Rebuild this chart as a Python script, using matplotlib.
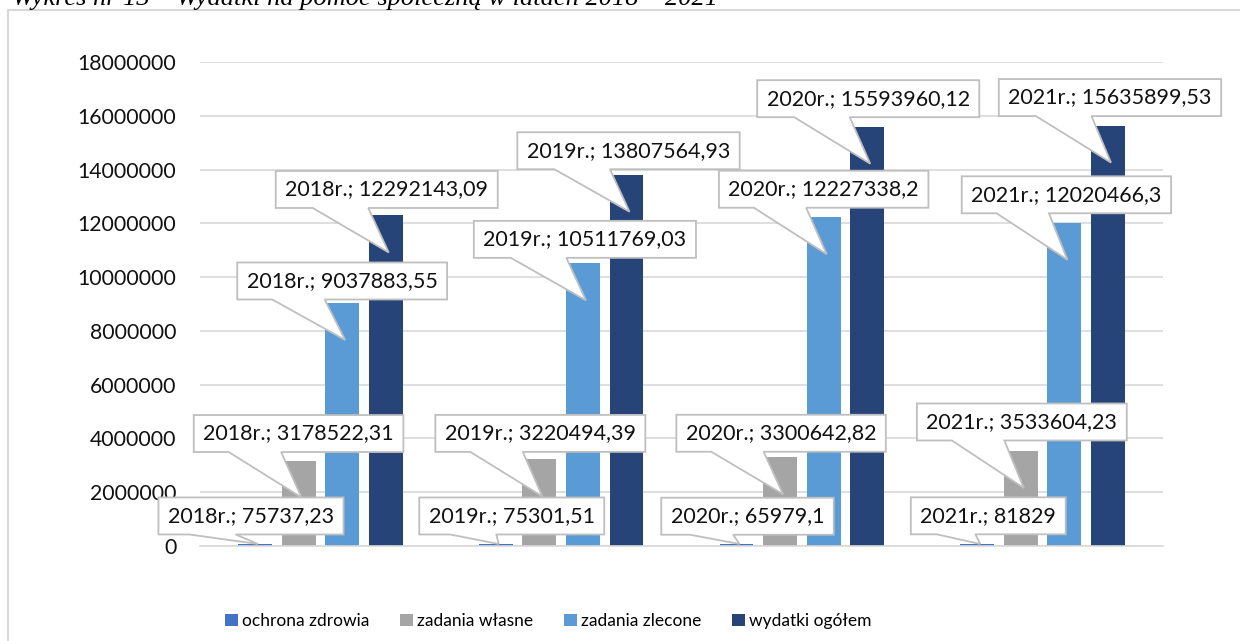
import numpy as np
import matplotlib.pyplot as plt
from matplotlib.patches import Polygon, Rectangle, Patch
from matplotlib.transforms import IdentityTransform

plt.rcParams['font.family'] = ['Lato', 'DejaVu Sans']

tytul = "Wykres nr 13 – Wydatki na pomoc społeczną w latach 2018 – 2021"
lata = ['2018r.', '2019r.', '2020r.', '2021r.']
serie = ['ochrona zdrowia', 'zadania własne', 'zadania zlecone', 'wydatki ogółem']
ochrona_zdrowia = [75737.23, 75301.51, 65979.1, 81829]
zadania_wlasne = [3178522.31, 3220494.39, 3300642.82, 3533604.23]
zadania_zlecone = [9037883.55, 10511769.03, 12227338.2, 12020466.3]
wydatki_ogolem = [12292143.09, 13807564.93, 15593960.12, 15635899.53]
yticks = np.arange(0, 18000001, 2000000)

kolory = ['#4472C4', '#A5A5A5', '#5B9BD5', '#264478']
# przesuniecie srodka etykiety wzgledem szczytu slupka (px)
etyk_dx = [[-4, 16, 11, 11], [0, 1, 1, 1], [0, 2, 0, 2], [1, 2, 1, 2]]
etyk_dy = [[28, 28, 28, 28], [27, 26, 24, 29], [22, 24, 28, 28], [26, 24, 28, 28]]

PX = 0.72  # pt na px przy dpi=100


def fmt(v):
    s = f"{v:.2f}".rstrip('0').rstrip('.')
    return s.replace('.', ',')


fig = plt.figure(figsize=(12.4, 6.41), dpi=100)
ax = fig.add_axes([200/1240, 95/641, 963/1240, 484/641])

dane = [ochrona_zdrowia, zadania_wlasne, zadania_zlecone, wydatki_ogolem]
x = np.arange(len(lata))
szer = 0.141
krok = 0.181
for i, (wart, kol) in enumerate(zip(dane, kolory)):
    ax.bar(x + (i - 1.5) * krok, wart, szer, color=kol, zorder=2)

ax.set_xlim(-0.5, 3.5)
ax.set_ylim(0, 18000000)
ax.set_yticks(yticks)
ax.set_yticklabels([str(t) for t in yticks], fontsize=15.3, color='#111111')
ax.set_xticks([])
ax.tick_params(axis='y', length=0, pad=17)
ax.yaxis.grid(True, color='#d9d9d9', lw=1.2)
ax.set_axisbelow(True)
for s in ['top', 'right', 'left']:
    ax.spines[s].set_visible(False)
ax.spines['bottom'].set_color('#d9d9d9')
ax.spines['bottom'].set_linewidth(1.2)

# etykiety
teksty = []
for i, wart in enumerate(dane):
    for j, v in enumerate(wart):
        xb = x[j] + (i - 1.5) * krok
        t = ax.annotate(f"{lata[j]}; {fmt(v)}", xy=(xb, v),
                        xytext=(etyk_dx[i][j] * PX, etyk_dy[i][j] * PX),
                        textcoords='offset points', ha='center', va='center',
                        fontsize=15.5, color='#111111', zorder=10 + 2 * len(teksty) + 1,
                        annotation_clip=False)
        teksty.append((t, xb, v))

fig.canvas.draw()
r = fig.canvas.get_renderer()
y0 = ax.transData.transform((0, 0))[1]
for k, (t, xb, v) in enumerate(teksty):
    bb = t.get_window_extent(r)
    cx = (bb.x0 + bb.x1) / 2
    cy = (bb.y0 + bb.y1) / 2
    w = bb.width + 19
    h = 37
    L, R, B, T = cx - w / 2, cx + w / 2, cy - h / 2, cy + h / 2
    px, py = ax.transData.transform((xb, v))
    tip = (px + 3, max(py - 37, y0 + 2))
    verts = [(L, B), (L + w / 6, B), tip, (L + 5 * w / 12, B), (R, B), (R, T), (L, T)]
    p = Polygon(verts, closed=True, transform=IdentityTransform(), fc='white',
                ec='#bfbfbf', lw=1.3, zorder=10 + 2 * k, clip_on=False)
    ax.add_artist(p)

# legenda
uchwyty = [Patch(fc=c, ec='none') for c in kolory]
fig.legend(uchwyty, serie, loc='center', bbox_to_anchor=(548/1240, 1 - 621/641),
           ncol=4, frameon=False, handlelength=0.75, handleheight=0.75,
           handletextpad=0.25, columnspacing=1.75, fontsize=12.5)

# ramka wykresu
fig.add_artist(Rectangle((8/1240, -0.05), 1.2, 1.05 - 10/641, fill=False,
                         ec='#d9d9d9', lw=1.5, transform=fig.transFigure, zorder=0))

fig.text(12/1240, 1 - 5/641, tytul, fontfamily='Liberation Serif', style='italic',
         fontsize=19, ha='left', va='baseline')

fig.savefig('out.png', dpi=100)
